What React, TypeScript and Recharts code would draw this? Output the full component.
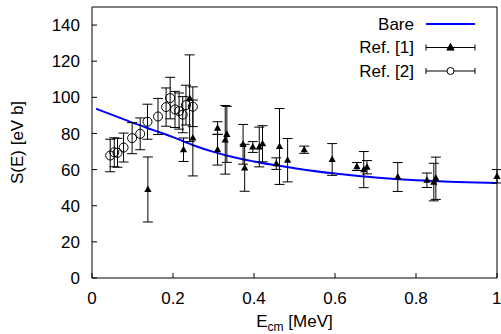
import React from 'react';
import { ComposedChart, Line, Scatter, ErrorBar, XAxis, YAxis, Legend } from 'recharts';

// Bare S-factor curve
const bareE = [0.01, 0.05, 0.1, 0.15, 0.2, 0.25, 0.3, 0.35, 0.4, 0.45, 0.5, 0.6, 0.7, 0.8, 0.9, 1.0];
const bareS = [93.7, 90.3, 86, 82, 78, 73.5, 69.8, 66.8, 64.5, 62.5, 60.8, 57.8, 55.6, 54.1, 53.2, 52.6];

// Ref. [1] points (energy, S, error)
const ref1E = [0.138, 0.226, 0.241, 0.249, 0.31, 0.31, 0.329, 0.333, 0.373, 0.377, 0.397, 0.413, 0.421,
  0.455, 0.463, 0.483, 0.524, 0.593, 0.654, 0.671, 0.679, 0.755, 0.827, 0.844, 0.849, 1.0];
const ref1S = [49, 71, 99.5, 77.5, 83, 71, 76.5, 79.5, 74, 61, 72.5, 72.5, 74.3,
  63.3, 72.8, 65.2, 71, 65.6, 61.7, 60, 61.3, 55.9, 54.1, 53.1, 55.2, 56.3];
const ref1Err = [18, 6.5, 24, 21, 3.5, 8.5, 19, 15.5, 11, 13, 3, 11, 10,
  3.2, 21, 12, 2, 8.8, 2.2, 10, 3.7, 8, 4, 10.4, 11.7, 3.7];

// Ref. [2] points
const ref2E = [0.045, 0.055, 0.063, 0.078, 0.099, 0.119, 0.137, 0.163, 0.183, 0.193, 0.205, 0.215, 0.224, 0.232, 0.249];
const ref2S = [67.8, 69.6, 69.3, 72.2, 77.4, 79.8, 86.5, 89.4, 94.6, 99.6, 93.3, 92.4, 90.4, 95.7, 94.8];
const ref2Err = [9, 8, 8, 8, 8.6, 8.8, 9.7, 10, 10.6, 11.5, 10, 10, 10, 11, 11];

const xTicks = [0, 0.2, 0.4, 0.6, 0.8, 1];
const yTicks = [0, 20, 40, 60, 80, 100, 120, 140];

const bareData = bareE.map((E, i) => ({ E, S: bareS[i] }));
const ref1Data = ref1E.map((E, i) => ({ E, S: ref1S[i], err: ref1Err[i] }));
const ref2Data = ref2E.map((E, i) => ({ E, S: ref2S[i], err: ref2Err[i] }));

const FONT = '"Liberation Sans", Arial, sans-serif';
const tickStyle = { fontSize: 17, fill: '#000' };

const Triangle = (p: any) => (
  <polygon
    points={`${p.cx},${p.cy - 4} ${p.cx - 3.6},${p.cy + 2.6} ${p.cx + 3.6},${p.cy + 2.6}`}
    fill="#000"
  />
);

const Circle = (p: any) => <circle cx={p.cx} cy={p.cy} r={4.5} fill="none" stroke="#000" strokeWidth={1} />;

const renderLegend = (props: any) => {
  const items = props.payload || [];
  return (
    <svg width={150} height={72} style={{ fontFamily: FONT, overflow: 'visible' }}>
      {items.map((it: any, i: number) => {
        const y = 12 + i * 23.5;
        return (
          <g key={it.value}>
            <text x={74} y={y} dy="0.35em" textAnchor="end" fontSize={17} fill="#000">
              {it.value}
            </text>
            {it.type === 'line' ? (
              <line x1={86} x2={135} y1={y} y2={y} stroke="#0000ff" strokeWidth={2} />
            ) : (
              <g stroke="#000" strokeWidth={1}>
                <line x1={86} x2={135} y1={y} y2={y} />
                <line x1={86} x2={86} y1={y - 3} y2={y + 3} />
                <line x1={135} x2={135} y1={y - 3} y2={y + 3} />
                {it.type === 'triangle' ? (
                  <Triangle cx={110.5} cy={y} />
                ) : (
                  <circle cx={110.5} cy={y} r={3.5} fill="#fff" />
                )}
              </g>
            )}
          </g>
        );
      })}
    </svg>
  );
};

const XLabel = (props: any) => {
  const vb = props.viewBox;
  const cx = vb.x + vb.width / 2;
  return (
    <text x={cx} y={327} textAnchor="middle" fontSize={17} fill="#000" fontFamily={FONT}>
      E<tspan fontSize={12} dy={3.5}>cm</tspan>
      <tspan dy={-3.5}> [MeV]</tspan>
    </text>
  );
};

const YLabel = (props: any) => {
  const vb = props.viewBox;
  const cy = vb.y + vb.height / 2;
  return (
    <text
      x={23}
      y={cy}
      transform={`rotate(-90, 23, ${cy})`}
      textAnchor="middle"
      fontSize={17}
      fill="#000"
      fontFamily={FONT}
    >
      S(E) [eV b]
    </text>
  );
};

export default function App() {
  return (
    <div style={{ position: 'absolute', left: 0, top: 0, background: '#fff', fontFamily: FONT }}>
      <ComposedChart width={501} height={334} margin={{ top: 6, right: 3, bottom: 6, left: 0 }}>
        <XAxis
          xAxisId={0}
          type="number"
          dataKey="E"
          domain={[0, 1]}
          ticks={xTicks}
          tickSize={-5}
          tickMargin={19}
          height={50}
          stroke="#000"
          tick={tickStyle}
          label={<XLabel />}
        />
        <XAxis
          xAxisId="top"
          orientation="top"
          type="number"
          dataKey="E"
          domain={[0, 1]}
          ticks={xTicks}
          tickSize={-5}
          height={1}
          stroke="#000"
          tickFormatter={() => ''}
        />
        <YAxis
          yAxisId={0}
          type="number"
          dataKey="S"
          domain={[0, 150]}
          ticks={yTicks}
          tickSize={-5}
          tickMargin={17}
          width={92}
          stroke="#000"
          tick={tickStyle}
          label={<YLabel />}
        />
        <YAxis
          yAxisId="right"
          orientation="right"
          type="number"
          domain={[0, 150]}
          ticks={yTicks}
          tickSize={-5}
          width={1}
          stroke="#000"
          tickFormatter={() => ''}
        />
        <Legend
          content={renderLegend}
          layout="horizontal"
          align="center"
          verticalAlign="middle"
          wrapperStyle={{ top: 12, left: 340, width: 150, height: 72 }}
        />
        <Line
          data={bareData}
          dataKey="S"
          name="Bare"
          type="monotone"
          stroke="#0000ff"
          strokeWidth={2}
          dot={false}
          legendType="line"
          isAnimationActive={false}
        />
        <Scatter
          data={ref1Data}
          dataKey="S"
          name="Ref. [1]"
          legendType="triangle"
          shape={<Triangle />}
          isAnimationActive={false}
        >
          <ErrorBar dataKey="err" direction="y" width={5} stroke="#000" strokeWidth={1} isAnimationActive={false} />
        </Scatter>
        <Scatter
          data={ref2Data}
          dataKey="S"
          name="Ref. [2]"
          legendType="circle"
          shape={<Circle />}
          isAnimationActive={false}
        >
          <ErrorBar dataKey="err" direction="y" width={5} stroke="#000" strokeWidth={1} isAnimationActive={false} />
        </Scatter>
      </ComposedChart>
    </div>
  );
}
